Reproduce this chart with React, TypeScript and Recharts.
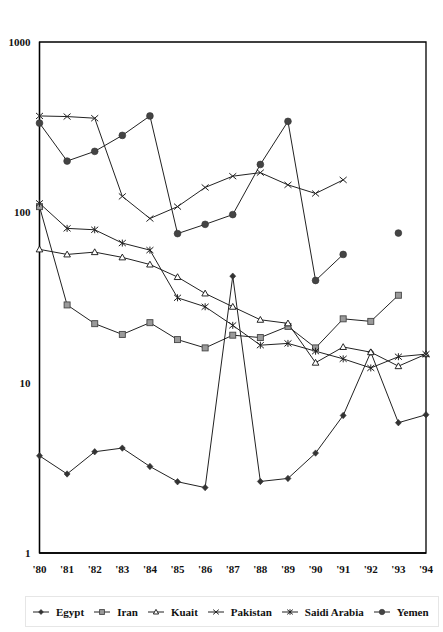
import React from "react";
import { LineChart, Line, XAxis, YAxis, ReferenceArea } from "recharts";

const years = ["'80", "'81", "'82", "'83", "'84", "'85", "'86", "'87", "'88", "'89", "'90", "'91", "'92", "'93", "'94"];
const egypt = [3.72, 2.91, 3.93, 4.13, 3.22, 2.62, 2.42, 42.2, 2.63, 2.74, 3.86, 6.42, 15.1, 5.82, 6.48];
const iran = [108, 28.6, 22.2, 19.2, 22.5, 17.9, 16, 19, 18.4, 21.4, 16, 23.7, 22.9, 32.6, null];
const kuait = [60.6, 56.6, 58.4, 54.4, 49.4, 41.7, 33.4, 27.9, 23.4, 22.3, 13.1, 16.2, 15.1, 12.5, 14.7];
const pakistan = [368, 365, 357, 124, 92, 108, 140, 163, 171, 145, 129, 155, null, null, null];
const saidiArabia = [113, 80.5, 79, 66, 60, 31.5, 27.9, 21.7, 16.6, 17, 15.3, 13.8, 12.2, 14.2, 14.7];
const yemen = [334, 200, 228, 283, 368, 75, 85, 97, 191, 342, 39.8, 56.6, null, 75.6, null];
const yTicks = [1, 10, 100, 1000];

const chartData = years.map((year, i) => ({
  year,
  egypt: egypt[i],
  iran: iran[i],
  kuait: kuait[i],
  pakistan: pakistan[i],
  saidiArabia: saidiArabia[i],
  yemen: yemen[i],
}));

type Shape = "diamond" | "square" | "triangle" | "cross" | "star" | "circle";

const series: { key: string; name: string; shape: Shape }[] = [
  { key: "egypt", name: "Egypt", shape: "diamond" },
  { key: "iran", name: "Iran", shape: "square" },
  { key: "kuait", name: "Kuait", shape: "triangle" },
  { key: "pakistan", name: "Pakistan", shape: "cross" },
  { key: "saidiArabia", name: "Saidi Arabia", shape: "star" },
  { key: "yemen", name: "Yemen", shape: "circle" },
];

const serif = "Liberation Serif";
const fontStyle = { fontFamily: serif, fontWeight: 700, fontSize: 11, fill: "#111" };

// draws one marker centred on cx, cy
const Marker = ({ shape, cx, cy, s = 1 }: { shape: Shape; cx: number; cy: number; s?: number }) => {
  switch (shape) {
    case "diamond":
      return <path d={`M${cx},${cy - 3.2 * s}L${cx + 3 * s},${cy}L${cx},${cy + 3.2 * s}L${cx - 3 * s},${cy}Z`} fill="#333" stroke="#333" strokeWidth={0.6} />;
    case "square":
      return <rect x={cx - 3 * s} y={cy - 3 * s} width={6 * s} height={6 * s} fill="#9a9a9a" stroke="#444" strokeWidth={0.9} />;
    case "triangle":
      return <path d={`M${cx},${cy - 3.3 * s}L${cx + 3.3 * s},${cy + 2.5 * s}L${cx - 3.3 * s},${cy + 2.5 * s}Z`} fill="#fff" stroke="#111" strokeWidth={0.9} />;
    case "cross":
      return <path d={`M${cx - 3.5 * s},${cy - 3 * s}L${cx + 3.5 * s},${cy + 3 * s}M${cx - 3.5 * s},${cy + 3 * s}L${cx + 3.5 * s},${cy - 3 * s}`} stroke="#222" strokeWidth={1} fill="none" />;
    case "star":
      return <path d={`M${cx - 3.5 * s},${cy - 3 * s}L${cx + 3.5 * s},${cy + 3 * s}M${cx - 3.5 * s},${cy + 3 * s}L${cx + 3.5 * s},${cy - 3 * s}M${cx},${cy - 3.5 * s}L${cx},${cy + 3.5 * s}`} stroke="#222" strokeWidth={1} fill="none" />;
    default:
      return <circle cx={cx} cy={cy} r={3.4 * s} fill="#444" stroke="#333" strokeWidth={0.6} />;
  }
};

const makeDot = (shape: Shape, key: string) => (props: any) => {
  const { cx, cy, index, value } = props;
  if (value == null || cx == null || cy == null || isNaN(cy)) return <g key={`${key}-${index}`} />;
  return (
    <g key={`${key}-${index}`}>
      <Marker shape={shape} cx={cx} cy={cy} />
    </g>
  );
};

const ChartLegend = () => (
  <div
    style={{
      position: "absolute",
      left: 25,
      top: 596,
      width: 414,
      height: 31,
      border: "1px solid #e6e6e6",
      boxSizing: "border-box",
      display: "flex",
      alignItems: "center",
      paddingLeft: 7,
      fontFamily: serif,
      fontWeight: 700,
      fontSize: 11,
      color: "#111",
      whiteSpace: "nowrap",
    }}
  >
    {series.map((s) => (
      <div key={s.key} style={{ display: "flex", alignItems: "center", marginRight: 10 }}>
        <svg width={16} height={10} style={{ marginRight: 7 }}>
          <line x1={0} y1={5} x2={16} y2={5} stroke="#222" strokeWidth={1} />
          <Marker shape={s.shape} cx={8} cy={5} s={0.8} />
        </svg>
        <span>{s.name}</span>
      </div>
    ))}
  </div>
);

const App = () => {
  return (
    <div style={{ position: "absolute", left: 0, top: 0, width: 443, height: 632, background: "#fff" }}>
      <LineChart width={443} height={632} data={chartData} margin={{ top: 42, right: 17, left: 0, bottom: 49 }}>
        <XAxis
          dataKey="year"
          scale="point"
          padding={{ left: 0, right: 0 }}
          tickLine={false}
          axisLine={{ stroke: "#000", strokeWidth: 1.3 }}
          tick={fontStyle}
          tickMargin={6}
          interval={0}
          height={30}
        />
        <YAxis
          scale="log"
          domain={[1, 1000]}
          ticks={yTicks}
          allowDataOverflow
          tickLine={false}
          axisLine={{ stroke: "#000", strokeWidth: 1.3 }}
          tick={fontStyle}
          tickMargin={3}
          width={39.5}
        />
        <ReferenceArea x1="'80" x2="'94" y1={1} y2={1000} fill="none" fillOpacity={0} stroke="#000" strokeWidth={1.3} />
        {series.map((s) => (
          <Line
            key={s.key}
            dataKey={s.key}
            name={s.name}
            type="linear"
            stroke="#222"
            strokeWidth={1}
            dot={makeDot(s.shape, s.key)}
            activeDot={false}
            connectNulls={false}
            isAnimationActive={false}
          />
        ))}
      </LineChart>
      <ChartLegend />
    </div>
  );
};

export default App;
